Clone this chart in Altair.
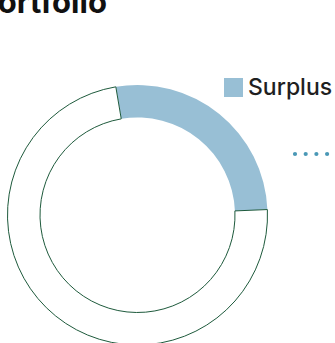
import math
import altair as alt
import pandas as pd

# ---- data ----
categories = ["Surplus", "Remaining"]
shares = [27, 73]
order_idx = [0, 1]
legend_values = ["Surplus"]
slice_colors = ["#98bfd5", "#ffffff"]
title_text = ["Portfolio"]

df = pd.DataFrame({"category": categories, "share": shares, "idx": order_idx})

START = -9.6 * math.pi / 180

arc = alt.Chart(df).mark_arc(
    outerRadius=130, innerRadius=97.5, stroke="#1e5a3c", strokeWidth=1
).encode(
    theta=alt.Theta("share:Q", stack=True,
                    scale=alt.Scale(range=[START, START + 2 * math.pi])),
    order=alt.Order("idx:Q", sort="ascending"),
    color=alt.Color(
        "category:N",
        scale=alt.Scale(domain=categories, range=slice_colors),
        legend=alt.Legend(
            values=legend_values, orient="none", legendX=222, legendY=76,
            title=None, symbolType="square", symbolSize=361, symbolStrokeWidth=0,
            symbolOpacity=1, labelFont="Inter", labelFontSize=23, labelFontWeight=500,
            labelColor="#1f1f1f", labelOffset=3, padding=0,
        ),
    ),
    strokeOpacity=alt.condition("datum.category === 'Surplus'", alt.value(0), alt.value(1)),
    x=alt.value(137.5),
    y=alt.value(215),
)

dots = alt.Chart(alt.Data(values=[{"k": 1}])).mark_rule(
    color="#4a98b6", strokeWidth=4.2, strokeCap="round", strokeDash=[0, 10.7]
).encode(
    x=alt.value(295), x2=alt.value(350), y=alt.value(154)
)

title = alt.Chart(alt.Data(values=[{"t": t} for t in title_text])).mark_text(
    font="Inter", fontSize=31, fontWeight="bold", color="#111111",
    align="left", baseline="alphabetic"
).encode(
    text="t:N", x=alt.value(-22), y=alt.value(13)
)

chart = alt.layer(arc, dots, title).properties(
    width=335,
    height=343,
    padding=0,
    autosize=alt.AutoSizeParams(type="none"),
).configure_view(stroke=None)

chart.save("out.html", embed_options={"renderer": "svg", "actions": False})
